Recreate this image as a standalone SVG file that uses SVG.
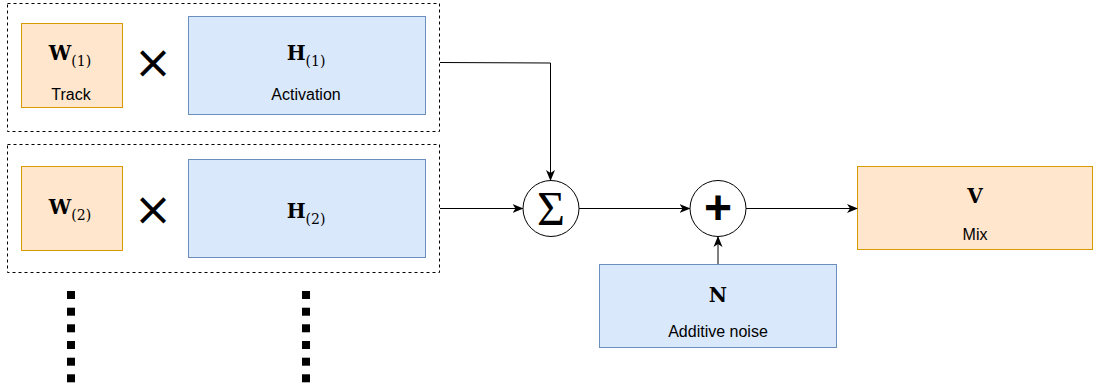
<svg xmlns="http://www.w3.org/2000/svg" width="1094" height="390" viewBox="0 0 1094 390">
<style>
.dash{fill:none;stroke:#000;stroke-width:1;stroke-dasharray:3 3}
.or{fill:#ffe6cc;stroke:#d79b00;stroke-width:1}
.bl{fill:#dae8fc;stroke:#6c8ebf;stroke-width:1}
.math{font-family:"DejaVu Serif","Liberation Serif",serif;font-weight:bold;font-size:20px;fill:#000;text-anchor:middle}
.sub{font-family:"DejaVu Serif","Liberation Serif",serif;font-weight:normal;font-size:14px}
.lbl{font-family:"Liberation Sans",Arial,sans-serif;font-size:16px;fill:#000;text-anchor:middle}
.times{font-family:"DejaVu Sans",sans-serif;font-size:46px;fill:#000;text-anchor:middle}
.circ{fill:#fff;stroke:#000;stroke-width:1}
.conn{fill:none;stroke:#000;stroke-width:1}
</style>
<defs>
<marker id="arr" viewBox="0 0 11 10" refX="10" refY="5" markerWidth="11" markerHeight="10" markerUnits="userSpaceOnUse" orient="auto">
<path d="M0,0.5 L11,5 L0,9.5 L3,5 Z" fill="#000"/>
</marker>
</defs>
<g id="group1">
<rect class="dash" x="7.5" y="3.5" width="432" height="128"/>
</g>
<g id="group2">
<rect class="dash" x="7.5" y="144.5" width="432" height="128"/>
</g>
<g id="W1">
<rect class="or" x="21.5" y="23.5" width="101" height="84"/>
<text class="math" x="70" y="60">W<tspan class="sub" dy="6">(1)</tspan></text>
<text class="lbl" x="71" y="100">Track</text>
</g>
<g id="times1"><text class="times" x="153" y="78">×</text></g>
<g id="H1">
<rect class="bl" x="188.5" y="16.5" width="237" height="98"/>
<text class="math" x="306" y="60">H<tspan class="sub" dy="6">(1)</tspan></text>
<text class="lbl" x="306" y="100">Activation</text>
</g>
<g id="W2">
<rect class="or" x="21.5" y="166.5" width="101" height="84"/>
<text class="math" x="70" y="214">W<tspan class="sub" dy="6">(2)</tspan></text>
</g>
<g id="times2"><text class="times" x="153" y="225">×</text></g>
<g id="H2">
<rect class="bl" x="188.5" y="159.5" width="237" height="98"/>
<text class="math" x="306" y="218">H<tspan class="sub" dy="6">(2)</tspan></text>
</g>
<g id="sum">
<circle class="circ" cx="551" cy="208.5" r="28"/>
<text x="551" y="225" font-family="Liberation Serif,serif" font-size="48" text-anchor="middle">Σ</text>
</g>
<g id="plus">
<circle class="circ" cx="718" cy="208.5" r="28"/>
<text x="718" y="224" font-family="Liberation Sans,Arial,sans-serif" font-weight="bold" font-size="48" text-anchor="middle">+</text>
</g>
<g id="V">
<rect class="or" x="857.5" y="166.5" width="235" height="83"/>
<text class="math" x="975" y="203">V</text>
<text class="lbl" x="975" y="240">Mix</text>
</g>
<g id="N">
<rect class="bl" x="599.5" y="264.5" width="237" height="83"/>
<text class="math" x="718" y="302">N</text>
<text class="lbl" x="718" y="337">Additive noise</text>
</g>
<g id="dots" fill="#000">
<rect x="67" y="291" width="8" height="8"/><rect x="67" y="307.7" width="8" height="8"/><rect x="67" y="324.3" width="8" height="8"/><rect x="67" y="341" width="8" height="8"/><rect x="67" y="357.7" width="8" height="8"/><rect x="67" y="374.3" width="8" height="8"/>
<rect x="302" y="291" width="8" height="8"/><rect x="302" y="307.7" width="8" height="8"/><rect x="302" y="324.3" width="8" height="8"/><rect x="302" y="341" width="8" height="8"/><rect x="302" y="357.7" width="8" height="8"/><rect x="302" y="374.3" width="8" height="8"/>
</g>
<g id="connectors">
<path class="conn" d="M440,62.5 L550.5,63 L550.5,180" marker-end="url(#arr)"/>
<path class="conn" d="M440,208.5 L522.5,208.5" marker-end="url(#arr)"/>
<path class="conn" d="M579,208.5 L689.5,208.5" marker-end="url(#arr)"/>
<path class="conn" d="M746,208.5 L857,208.5" marker-end="url(#arr)"/>
<path class="conn" d="M718,264 L718,237" marker-end="url(#arr)"/>
</g>
</svg>
